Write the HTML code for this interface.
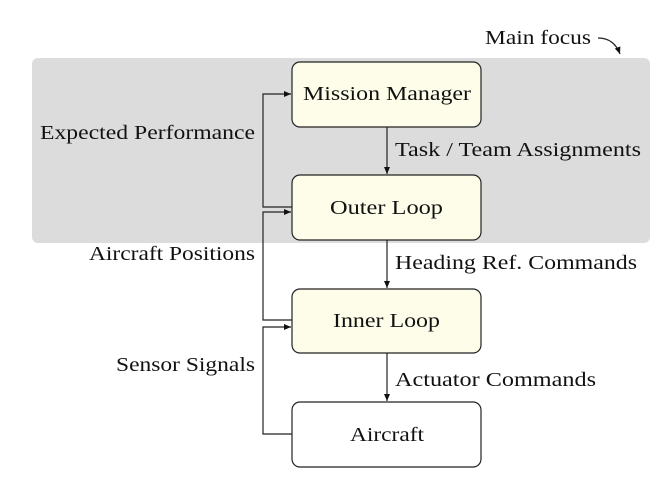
<!DOCTYPE html>
<html><head><style>body{margin:0;background:#fff}</style></head><body>
<svg width="669" height="475" xmlns="http://www.w3.org/2000/svg" font-family="Liberation Serif, serif" font-size="20" fill="#111">
<defs><marker id="a" markerWidth="8" markerHeight="8" refX="7" refY="4" orient="auto" markerUnits="userSpaceOnUse"><path d="M0,1 L7,4 L0,7 Z" fill="#111"/></marker></defs>
<rect x="32" y="58" width="618" height="185" rx="6" fill="#dcdcdc"/>
<g stroke="#222" stroke-width="1.2">
<rect x="292" y="62" width="189" height="65" rx="8" fill="#fdfdea"/>
<rect x="292" y="175" width="189" height="65" rx="8" fill="#fdfdea"/>
<rect x="292" y="289" width="189" height="64" rx="8" fill="#fdfdea"/>
<rect x="292" y="402" width="189" height="65" rx="8" fill="#fff"/>
<g fill="none">
<line x1="387" y1="127" x2="387" y2="174" marker-end="url(#a)"/>
<line x1="387" y1="240" x2="387" y2="288" marker-end="url(#a)"/>
<line x1="387" y1="353" x2="387" y2="401" marker-end="url(#a)"/>
<polyline points="292,207 263,207 263,94 291,94" marker-end="url(#a)"/>
<polyline points="292,320 263,320 263,212 291,212" marker-end="url(#a)"/>
<polyline points="292,434 263,434 263,327 291,327" marker-end="url(#a)"/>
<path d="M598,38 Q614,38 620,54" marker-end="url(#a)"/>
</g></g>
<text x="303" y="100" textLength="168" lengthAdjust="spacingAndGlyphs">Mission Manager</text>
<text x="330" y="214" textLength="113" lengthAdjust="spacingAndGlyphs">Outer Loop</text>
<text x="333" y="327" textLength="107" lengthAdjust="spacingAndGlyphs">Inner Loop</text>
<text x="350" y="441" textLength="74" lengthAdjust="spacingAndGlyphs">Aircraft</text>
<text x="395" y="156" textLength="246" lengthAdjust="spacingAndGlyphs">Task / Team Assignments</text>
<text x="395" y="269" textLength="242" lengthAdjust="spacingAndGlyphs">Heading Ref. Commands</text>
<text x="395" y="386" textLength="201" lengthAdjust="spacingAndGlyphs">Actuator Commands</text>
<text x="40" y="139" textLength="215" lengthAdjust="spacingAndGlyphs">Expected Performance</text>
<text x="89" y="260" textLength="166" lengthAdjust="spacingAndGlyphs">Aircraft Positions</text>
<text x="116" y="371" textLength="139" lengthAdjust="spacingAndGlyphs">Sensor Signals</text>
<text x="485" y="44" textLength="106" lengthAdjust="spacingAndGlyphs">Main focus</text>
</svg>
</body></html>
